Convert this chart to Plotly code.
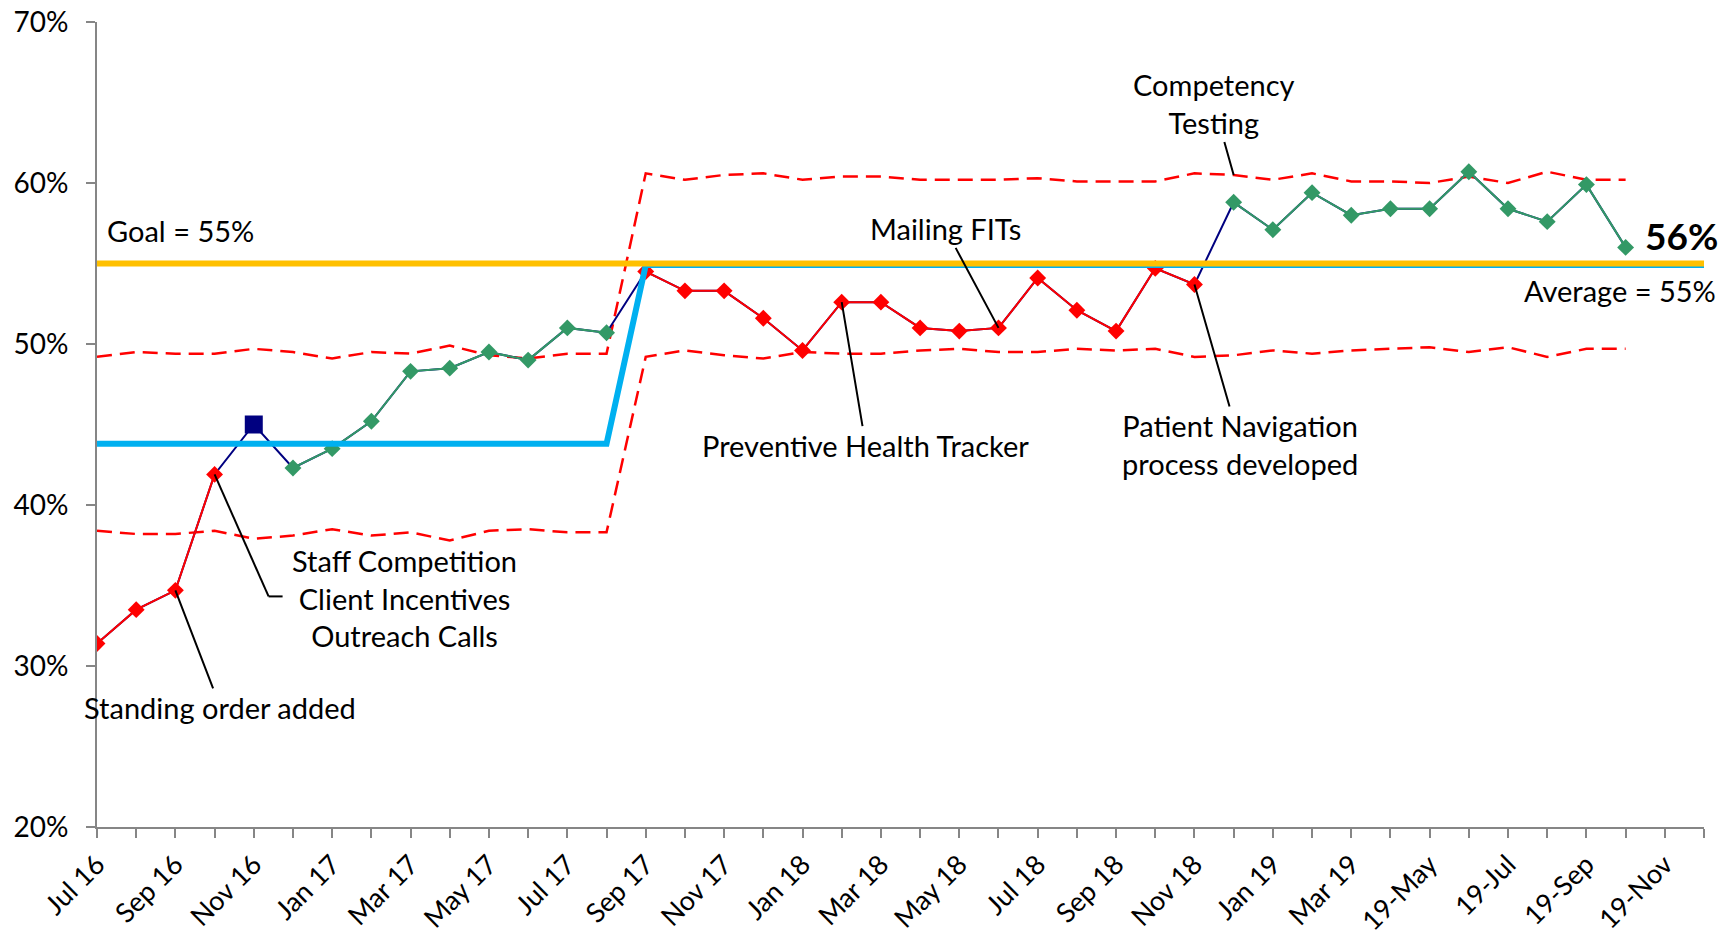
import plotly.graph_objects as go

# monthly categories on the x axis (Jul 2016 .. Dec 2019)
months = [
    "Jul 16", "Aug 16", "Sep 16", "Oct 16", "Nov 16", "Dec 16",
    "Jan 17", "Feb 17", "Mar 17", "Apr 17", "May 17", "Jun 17",
    "Jul 17", "Aug 17", "Sep 17", "Oct 17", "Nov 17", "Dec 17",
    "Jan 18", "Feb 18", "Mar 18", "Apr 18", "May 18", "Jun 18",
    "Jul 18", "Aug 18", "Sep 18", "Oct 18", "Nov 18", "Dec 18",
    "Jan 19", "Feb 19", "Mar 19", "Apr 19", "19-May", "19-Jun",
    "19-Jul", "19-Aug", "19-Sep", "19-Oct", "19-Nov", "19-Dec",
]

# screening rate (%), Jul 16 .. Oct 19
rate = [
    31.4, 33.5, 34.7, 41.9, 45.0, 42.3, 43.5, 45.2, 48.3, 48.5,
    49.5, 49.0, 51.0, 50.7, 54.5, 53.3, 53.3, 51.6, 49.6, 52.6,
    52.6, 51.0, 50.8, 51.0, 54.1, 52.1, 50.8, 54.7, 53.7, 58.8,
    57.1, 59.4, 58.0, 58.4, 58.4, 60.7, 58.4, 57.6, 59.9, 56.0,
]
# R = red signal point, G = green signal point, N = plain point
signal = ["R"] * 4 + ["N"] + ["G"] * 9 + ["R"] * 15 + ["G"] * 11

ucl = [
    49.2, 49.5, 49.4, 49.4, 49.7, 49.5, 49.1, 49.5, 49.4, 49.9, 49.3, 49.1, 49.4, 49.4,
    60.6, 60.2, 60.5, 60.6, 60.2, 60.4, 60.4, 60.2, 60.2, 60.2, 60.3, 60.1, 60.1,
    60.1, 60.6, 60.5, 60.2, 60.6, 60.1, 60.1, 60.0, 60.4, 60.0, 60.7, 60.2, 60.2,
]
lcl = [
    38.4, 38.2, 38.2, 38.4, 37.9, 38.1, 38.5, 38.1, 38.3, 37.8, 38.4, 38.5, 38.3, 38.3,
    49.2, 49.6, 49.3, 49.1, 49.5, 49.4, 49.4, 49.6, 49.7, 49.5, 49.5, 49.7, 49.6,
    49.7, 49.2, 49.3, 49.6, 49.4, 49.6, 49.7, 49.8, 49.5, 49.8, 49.2, 49.7, 49.7,
]
center = [43.8] * 14 + [54.9] * 28
goal = [55.0] * 42

tick_text = [m if i % 2 == 0 else "" for i, m in enumerate(months)]

FONT = "Lato, 'Open Sans', sans-serif"
RED = "#ff0000"
GREEN = "#339966"
NAVY = "#000080"

n = len(rate)
red_y = [v if s == "R" else None for v, s in zip(rate, signal)]
green_y = [v if s == "G" else None for v, s in zip(rate, signal)]
plain_y = [v if s == "N" else None for v, s in zip(rate, signal)]

fig = go.Figure()

limit_line = dict(color=RED, width=2.5, dash="15px,8px")
fig.add_trace(go.Scatter(x=months[:n], y=ucl, mode="lines", line=limit_line))
fig.add_trace(go.Scatter(x=months[:n], y=lcl, mode="lines", line=limit_line))

fig.add_trace(go.Scatter(x=months[:n], y=rate, mode="lines",
                         line=dict(color=NAVY, width=2)))
fig.add_trace(go.Scatter(x=months[:n], y=plain_y, mode="markers",
                         marker=dict(color=NAVY, size=18, symbol="square")))
fig.add_trace(go.Scatter(x=months[:n], y=red_y, mode="lines+markers",
                         line=dict(color=RED, width=2),
                         marker=dict(color=RED, size=13, symbol="diamond")))
fig.add_trace(go.Scatter(x=months[:n], y=green_y, mode="lines+markers",
                         line=dict(color=GREEN, width=2),
                         marker=dict(color=GREEN, size=13, symbol="diamond")))

fig.add_trace(go.Scatter(x=months, y=center, mode="lines",
                         line=dict(color="#00b0f0", width=6)))
fig.add_trace(go.Scatter(x=months, y=goal, mode="lines",
                         line=dict(color="#ffc000", width=6)))

note_font = dict(family=FONT, size=29, color="black")


def callout(month, value, text, ax, ay):
    return dict(
        x=month, y=value, text=text, showarrow=True, arrowhead=0,
        arrowwidth=2, arrowcolor="black", ax=ax, ay=ay, standoff=0,
        font=note_font,
    )


annotations = [
    callout("Sep 16", rate[2], "Standing order added", 45, 117),
    callout("Feb 18", rate[19], "Preventive Health Tracker", 24, 143),
    callout("Jun 18", rate[23], "Mailing FITs", -53, -99),
    callout("Nov 18", rate[28], "Patient Navigation<br>process developed", 46, 160),
    callout("Dec 18", ucl[29], "Competency<br>Testing", -20, -71),
    dict(x="Oct 16", y=rate[3], xshift=190, yshift=-124,
         text="Staff Competition<br>Client Incentives<br>Outreach Calls",
         showarrow=False, font=note_font),
    dict(x=months[0], y=55, text="Goal = 55%", showarrow=False,
         xanchor="left", xshift=8, yshift=33, font=note_font),
    dict(x=months[-1], y=55, text="Average = 55%", showarrow=False,
         xanchor="right", xshift=14, yshift=-27, font=note_font),
    dict(x=months[n - 1], y=rate[-1], text="<b>56%</b>", showarrow=False,
         xanchor="left", xshift=17, yshift=12,
         font=dict(family=FONT, size=37, color="black")),
]

# elbow connector for the "Staff Competition" note
elbow = dict(type="line", xref="x", yref="y", xsizemode="pixel", ysizemode="pixel",
             xanchor="Oct 16", yanchor=rate[3], line=dict(color="black", width=2))
shapes = [
    dict(elbow, x0=0, y0=0, x1=54, y1=-122),
    dict(elbow, x0=54, y0=-122, x1=68, y1=-122),
]

axis_font = dict(family=FONT, size=27, color="black")
fig.update_layout(
    width=1724,
    height=938,
    margin=dict(l=97, r=20, t=22, b=111),
    plot_bgcolor="white",
    paper_bgcolor="white",
    showlegend=False,
    annotations=annotations,
    shapes=shapes,
    xaxis=dict(
        type="category",
        categoryorder="array",
        categoryarray=months,
        range=[0, len(months) - 1],
        tickmode="array",
        tickvals=months,
        ticktext=tick_text,
        tickangle=-45,
        ticks="outside",
        ticklen=9,
        tickwidth=2,
        tickcolor="#868686",
        showline=True,
        linecolor="#868686",
        linewidth=2,
        showgrid=False,
        zeroline=False,
        automargin=False,
        tickfont=axis_font,
    ),
    yaxis=dict(
        range=[20, 70],
        dtick=10,
        ticksuffix="%",
        ticks="outside",
        ticklen=9,
        tickwidth=2,
        tickcolor="#868686",
        showline=True,
        linecolor="#868686",
        linewidth=2,
        showgrid=False,
        zeroline=False,
        automargin=False,
        tickfont=dict(family=FONT, size=28, color="black"),
        ticklabelstandoff=12,
    ),
)

fig.write_html("out.html", config={"displayModeBar": False},
               post_script="document.body.style.margin='0';")
